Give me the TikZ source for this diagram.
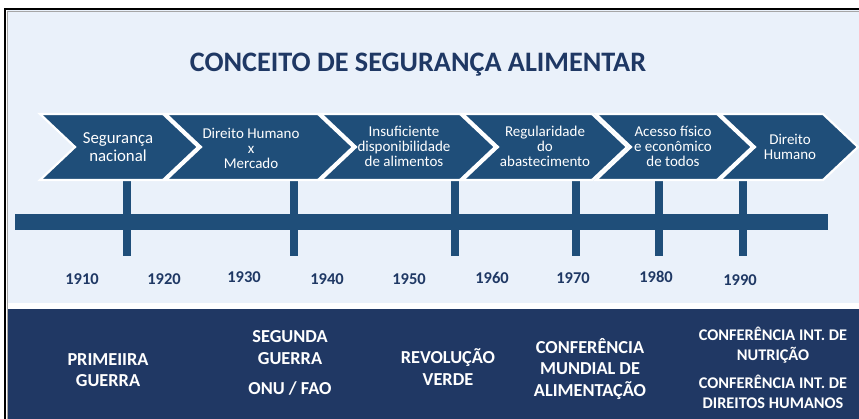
\documentclass[tikz,border=0pt]{standalone}
\usepackage{fontspec}
\setmainfont{Carlito}
\definecolor{chev}{HTML}{1F4E79}
\definecolor{navy}{HTML}{203864}
\definecolor{bgl}{HTML}{EAF1FA}
\definecolor{ttl}{HTML}{1F3864}
\begin{document}
\begin{tikzpicture}[x=1pt,y=-1pt,
  chevtxt/.style={text=white, align=center, inner sep=0pt, font=\fontsize{15}{15}\selectfont},
  yeartxt/.style={text=ttl, inner sep=0pt, font=\bfseries\fontsize{16.5}{18}\selectfont},
  eventtxt/.style={text=white, align=center, inner sep=0pt, font=\bfseries\fontsize{18.3}{21.5}\selectfont},
  eventsmall/.style={text=white, align=center, inner sep=0pt, font=\bfseries\fontsize{16.3}{20}\selectfont},
  chevshape/.style={fill=chev, draw=white, line width=2.2pt, line join=miter},
  tick/.style={fill=chev}]
\useasboundingbox (0,0) rectangle (859,419);
\fill[white] (0,0) rectangle (859,419);
% panels
\fill[bgl] (7,10) rectangle (859,303);
\fill[navy] (7,309) rectangle (859,419);
\draw[black, line width=2pt] (5,419) -- (5,9) -- (859,9);
\draw[gray!70, line width=0.8pt] (7.8,419) -- (7.8,11.5) -- (859,11.5);
% title
\node[text=ttl, inner sep=0pt, font=\bfseries\fontsize{28.2}{32}\selectfont] (title) at (418,65) {CONCEITO DE SEGURANÇA ALIMENTAR};
% timeline bar and ticks
\fill[chev] (15,214) rectangle (828,230);
\foreach \x in {127,294,455,576,659,743} {
  \fill[tick] (\x-4,180) rectangle (\x+4,256);
}
% chevrons
\foreach \xs/\xe [count=\i] in {40/163, 166/318, 321/460, 463/592, 596/717, 720/823} {
  \filldraw[chevshape] (\xs,114) -- (\xe,114) -- (\xe+35,147) -- (\xe,180) -- (\xs,180) -- (\xs+35,147) -- cycle;
}
\node[chevtxt, font=\fontsize{16.8}{18.5}\selectfont] (c1) at (118,147) {Segurança\\nacional};
\node[chevtxt] (c2) at (251,148.5) {Direito Humano\\x\\Mercado};
\node[chevtxt] (c3) at (404,146.5) {Insuficiente\\disponibilidade\\de alimentos};
\node[chevtxt] (c4) at (545,146) {Regularidade\\do\\abastecimento};
\node[chevtxt] (c5) at (673,146) {Acesso físico\\e econômico\\de todos};
\node[chevtxt] (c6) at (790,146.5) {Direito\\Humano};
% years
\node[yeartxt] (y1910) at (82,279) {1910};
\node[yeartxt] (y1920) at (164,279) {1920};
\node[yeartxt] (y1930) at (244,277) {1930};
\node[yeartxt] (y1940) at (327,279) {1940};
\node[yeartxt] (y1950) at (409,279) {1950};
\node[yeartxt] (y1960) at (492,278) {1960};
\node[yeartxt] (y1970) at (573,278) {1970};
\node[yeartxt] (y1980) at (656,277) {1980};
\node[yeartxt] (y1990) at (740,280) {1990};
% events
\node[eventtxt] (e1) at (108,370) {PRIMEIIRA\\GUERRA};
\node[eventtxt] (e2) at (290,347.5) {SEGUNDA\\GUERRA};
\node[eventtxt] (e2b) at (290,388) {ONU / FAO};
\node[eventtxt] (e3) at (448,367) {REVOLUÇÃO\\VERDE};
\node[eventtxt] (e4) at (590,369) {CONFERÊNCIA\\MUNDIAL DE\\ALIMENTAÇÃO};
\node[eventsmall] (e5) at (773,345) {CONFERÊNCIA INT. DE\\NUTRIÇÃO};
\node[eventsmall] (e5b) at (773,391.5) {CONFERÊNCIA INT. DE\\DIREITOS HUMANOS};
\end{tikzpicture}
\end{document}
